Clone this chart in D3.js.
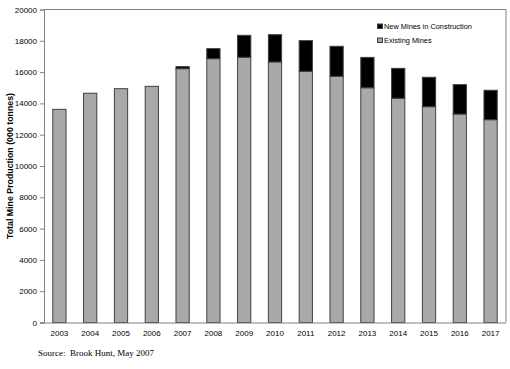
<!DOCTYPE html>
<html><head><meta charset="utf-8">
<script src="https://cdn.jsdelivr.net/npm/d3@7"></script>
<style>body{margin:0;background:#fff}svg{display:block}</style>
</head><body><svg id="c" width="510" height="369"></svg>
<script>
const years = ["2003","2004","2005","2006","2007","2008","2009","2010","2011","2012","2013","2014","2015","2016","2017"];
const existing = [13620,14650,14940,15090,16220,16860,16950,16650,16050,15730,15000,14330,13790,13320,12960];
const newMines = [0,0,0,0,130,640,1400,1740,1960,1920,1940,1910,1880,1880,1880];
const yTicks = [0,2000,4000,6000,8000,10000,12000,14000,16000,18000,20000];
const seriesNames = ["New Mines in Construction","Existing Mines"];

const svg = d3.select("#c");
const L=44, R=506, T=9.5, B=322.5;
const x = d3.scaleBand().domain(years).range([L,R]).paddingInner(0.57).paddingOuter(0.285);
const y = d3.scaleLinear().domain([0,20000]).range([B,T]);

// frame
svg.append("path").attr("d",`M${L},${T}H${R}V${B}`).attr("fill","none").attr("stroke","#808080").attr("stroke-width",1);

// bars
const g = svg.append("g");
years.forEach((yr,i)=>{
  g.append("rect").attr("x",x(yr)).attr("width",x.bandwidth())
   .attr("y",y(existing[i])).attr("height",y(0)-y(existing[i]))
   .attr("fill","#a9a9a9").attr("stroke","#404040").attr("stroke-width",1);
  if(newMines[i]>0){
    const top=existing[i]+newMines[i];
    g.append("rect").attr("x",x(yr)).attr("width",x.bandwidth())
     .attr("y",y(top)).attr("height",y(existing[i])-y(top))
     .attr("fill","#000").attr("stroke","#404040").attr("stroke-width",1);
  }
});

// y axis
const ya = svg.append("g").attr("transform",`translate(${L},0)`)
  .call(d3.axisLeft(y).tickValues(yTicks).tickSize(4).tickPadding(3).tickFormat(d3.format("d")));
ya.select(".domain").attr("stroke","#808080");
ya.selectAll(".tick line").attr("stroke","#808080");
ya.selectAll("text").attr("font-family","Liberation Sans, Arial, sans-serif").attr("font-size","8px").attr("fill","#000");

// x axis
const xa = svg.append("g").attr("transform",`translate(0,${B})`)
  .call(d3.axisBottom(x).tickSize(0).tickPadding(8));
xa.select(".domain").attr("stroke","#808080").attr("d",`M${L-4},0.5H${R}`);
xa.selectAll("text").attr("font-family","Liberation Sans, Arial, sans-serif").attr("font-size","8px").attr("fill","#000");

// y title
svg.append("text").attr("transform",`translate(13,${166}) rotate(-90)`)
  .attr("text-anchor","middle").attr("font-family","Liberation Sans, Arial, sans-serif")
  .attr("font-size","8.8px").attr("font-weight","bold").text("Total Mine Production (000 tonnes)");

// legend
const leg = svg.append("g").attr("transform","translate(377,20)");
const legFill=["#000","#a9a9a9"];
seriesNames.forEach((n,i)=>{
  leg.append("rect").attr("x",0.5).attr("y",i*14+4).attr("width",5).attr("height",4.5)
    .attr("fill",legFill[i]).attr("stroke","#404040").attr("stroke-width",1);
  leg.append("text").attr("x",7).attr("y",i*14+7.5+1).attr("font-family","Liberation Sans, Arial, sans-serif")
    .attr("font-size","7.4px").text(n);
});

// source
svg.append("text").attr("x",38).attr("y",356).attr("font-family","Liberation Serif, Times New Roman, serif")
  .attr("font-size","9px").attr("xml:space","preserve").style("white-space","pre").text("Source:  Brook Hunt, May 2007");
</script></body></html>
